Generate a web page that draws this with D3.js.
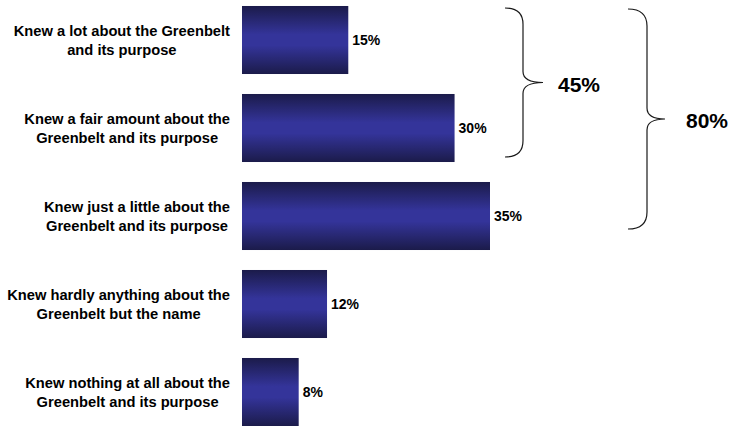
<!DOCTYPE html>
<html>
<head>
<meta charset="utf-8">
<script src="https://cdn.jsdelivr.net/npm/d3@7"></script>
<style>
  html, body { margin: 0; padding: 0; background: #fff; }
  svg { display: block; }
  text { font-family: "Liberation Sans", Arial, sans-serif; font-weight: bold; fill: #000; }
</style>
</head>
<body>
<svg id="chart" width="730" height="426"></svg>
<script>
// ---- data ----
const categories = [
  ["Knew a lot about the Greenbelt", "and its purpose"],
  ["Knew a fair amount about the", "Greenbelt and its purpose"],
  ["Knew just a little about the", "Greenbelt and its purpose"],
  ["Knew hardly anything about the", "Greenbelt but the name"],
  ["Knew nothing at all about the", "Greenbelt and its purpose"]
];
const values = [15, 30, 35, 12, 8];
const groupLabels = ["45%", "80%"];
const groupFirst = [0, 0];
const groupLast = [1, 2];

// ---- layout ----
const svg = d3.select("#chart");
const x0 = 242;
const x = d3.scaleLinear().domain([0, 35]).range([x0, 490]);
const keys = categories.map((d, i) => i);
const y = d3.scaleBand().domain(keys).range([-4, 436])
  .paddingInner(0.227).paddingOuter(0.1135);

const defs = svg.append("defs");
const grad = defs.append("linearGradient").attr("id", "barGrad")
  .attr("x1", 0).attr("y1", 0).attr("x2", 0).attr("y2", 1);
grad.append("stop").attr("offset", "0%").attr("stop-color", "#1b1b4a");
grad.append("stop").attr("offset", "42%").attr("stop-color", "#34349a");
grad.append("stop").attr("offset", "58%").attr("stop-color", "#34349a");
grad.append("stop").attr("offset", "100%").attr("stop-color", "#1b1b4a");

// bars
svg.append("g").selectAll("rect").data(values).join("rect")
  .attr("x", x(0))
  .attr("y", (d, i) => y(i))
  .attr("width", d => x(d) - x(0))
  .attr("height", y.bandwidth())
  .attr("fill", "url(#barGrad)");

// value labels
svg.append("g").selectAll("text").data(values).join("text")
  .attr("x", d => x(d) + 4)
  .attr("y", (d, i) => y(i) + y.bandwidth() / 2 + 5)
  .style("font-size", "14px")
  .text(d => d + "%");

// category labels: wrapped block right-aligned to axis, lines centered within block
const labelRight = 230;
const lg = svg.append("g");
categories.forEach((lines, i) => {
  const cy = y(i) + y.bandwidth() / 2;
  const t = lg.append("text").style("font-size", "14.7px").attr("text-anchor", "middle");
  const spans = lines.map((ln, j) => t.append("tspan").attr("y", cy - 4 + j * 18.5).text(ln));
  const maxW = d3.max(spans, s => s.node().getComputedTextLength());
  spans.forEach(s => s.attr("x", labelRight - maxW / 2));
});

// braces
const braceSpine = [523, 647];
const braceTip = [543, 665];
const braceLeft = [505, 628];
const braceTopPad = [2, 3];
const braceBotPad = [5, 21];
const braceTextGap = [15, 21];
const bg = svg.append("g");
groupLabels.forEach((lab, k) => {
  const y0 = y(groupFirst[k]) + braceTopPad[k];
  const y1 = y(groupLast[k]) + y.bandwidth() - braceBotPad[k];
  const ym = (y0 + y1) / 2;
  const xs = braceSpine[k], xt = braceTip[k], xl = braceLeft[k];
  const r = xs - xl;
  const rt = 11;
  const p = d3.path();
  p.moveTo(xl, y0);
  p.quadraticCurveTo(xs, y0, xs, y0 + r * 0.9);
  p.lineTo(xs, ym - rt);
  p.quadraticCurveTo(xs, ym, xt, ym);
  p.quadraticCurveTo(xs, ym, xs, ym + rt);
  p.lineTo(xs, y1 - r * 0.9);
  p.quadraticCurveTo(xs, y1, xl, y1);
  bg.append("path").attr("d", p.toString())
    .attr("fill", "none").attr("stroke", "#1a1a1a").attr("stroke-width", 1.2);
  bg.append("text")
    .attr("x", xt + braceTextGap[k])
    .attr("y", ym + 9)
    .style("font-size", "21px")
    .text(lab);
});
</script>
</body>
</html>
